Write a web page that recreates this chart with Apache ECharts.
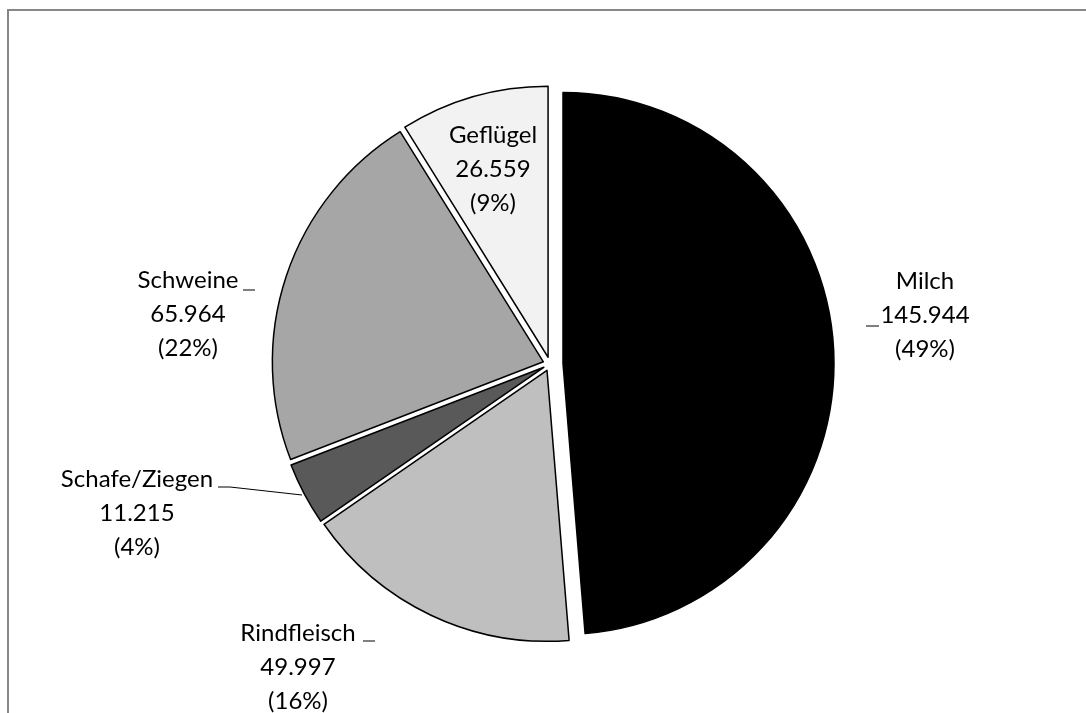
<!DOCTYPE html>
<html>
<head>
<meta charset="utf-8">
<script src="https://cdn.jsdelivr.net/npm/echarts@6/dist/echarts.min.js"></script>
<style>
html,body{margin:0;padding:0;background:#fff;}
#chart{width:1086px;height:713px;}
</style>
</head>
<body>
<div id="chart"></div>
<script>
// Data (clockwise from 12 o'clock)
const categories = ['Milch', 'Rindfleisch', 'Schafe/Ziegen', 'Schweine', 'Geflügel'];
const values = [145944, 49997, 11215, 65964, 26559];
const sliceColors = ['#000000', '#BFBFBF', '#595959', '#A6A6A6', '#F2F2F2'];

// Layout (label block centres and leader stubs)
const labelPos = [[925, 315], [298, 667], [137, 513], [188, 314], [493, 169]];
const stubLines = [
  [[866, 326], [879, 326]],
  [[363, 641], [375, 641]],
  [[302, 495], [230, 487], [218, 487]],
  [[243, 290], [255, 290]],
  null
];

function fmt(v) {
  return String(v).replace(/\B(?=(\d{3})+(?!\d))/g, '.');
}

function sliceData(visibleIdx) {
  return categories.map((name, i) => {
    const vis = visibleIdx.indexOf(i) >= 0;
    return {
      name: name,
      value: values[i],
      selected: vis,
      itemStyle: vis
        ? { color: sliceColors[i], borderColor: '#000', borderWidth: 1.5 }
        : { color: 'rgba(0,0,0,0)', borderWidth: 0 }
    };
  });
}

function labelData() {
  return categories.map((name, i) => ({
    name: name,
    value: values[i],
    itemStyle: { color: 'rgba(0,0,0,0)', borderWidth: 0 },
    labelLine: { show: stubLines[i] !== null }
  }));
}

const common = {
  type: 'pie',
  center: [550, 364],
  radius: [0, 271],
  startAngle: 90,
  clockwise: true,
  percentPrecision: 0,
  animation: false,
  silent: true,
  emphasis: { disabled: true }
};

const chart = echarts.init(document.getElementById('chart'), null, { renderer: 'canvas' });
chart.setOption({
  backgroundColor: '#fff',
  animation: false,
  graphic: [{
    type: 'rect',
    silent: true,
    shape: { x: 8, y: 10, width: 1200, height: 900 },
    style: { fill: 'none', stroke: '#878787', lineWidth: 2 },
    z: 0
  }],
  series: [
    Object.assign({}, common, {
      name: 'others', selectedMode: 'multiple', selectedOffset: 7,
      label: { show: false }, labelLine: { show: false },
      data: sliceData([1, 2, 3, 4])
    }),
    Object.assign({}, common, {
      name: 'milch', selectedMode: 'multiple', selectedOffset: 13,
      label: { show: false }, labelLine: { show: false },
      data: sliceData([0])
    }),
    Object.assign({}, common, {
      name: 'labels', selectedMode: false, z: 5,
      label: {
        show: true,
        position: 'outside',
        fontFamily: 'Lato',
        fontSize: 24,
        lineHeight: 34,
        color: '#000',
        align: 'center',
        verticalAlign: 'middle',
        formatter: p => p.name + '\n' + fmt(p.value) + '\n(' + p.percent + '%)'
      },
      labelLine: { show: true, lineStyle: { color: '#000', width: 1 } },
      labelLayout: function (params) {
        const i = params.dataIndex;
        const out = { x: labelPos[i][0], y: labelPos[i][1], align: 'center', verticalAlign: 'middle' };
        if (stubLines[i]) out.labelLinePoints = stubLines[i];
        return out;
      },
      data: labelData()
    })
  ]
});
</script>
</body>
</html>
